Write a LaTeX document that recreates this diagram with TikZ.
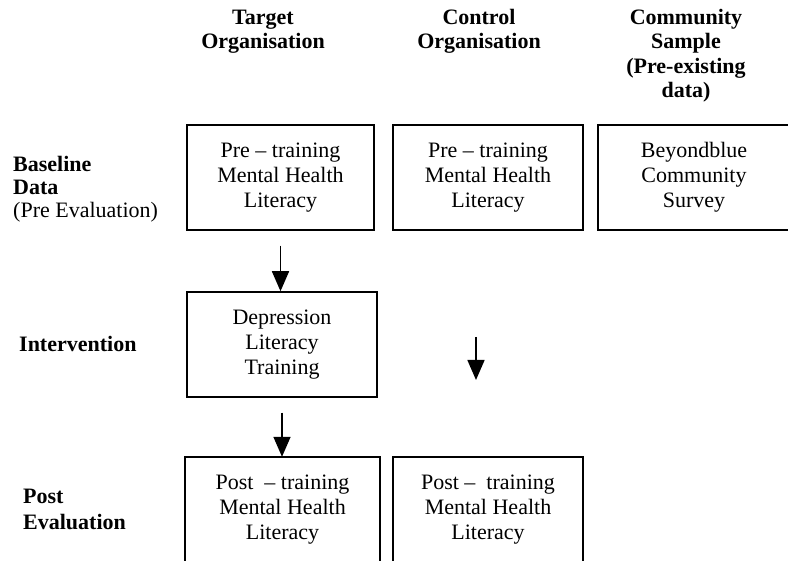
\documentclass[tikz,border=0pt]{standalone}
\usepackage{fontspec}
\setmainfont{Liberation Serif}
\usetikzlibrary{arrows.meta}
\newcommand\bxfont{\fontsize{22}{25}\selectfont}
\newcommand\hdfont{\fontsize{22}{24.5}\selectfont\bfseries}
\begin{document}
\begin{tikzpicture}[x=1pt,y=-1pt,
  box/.style={draw, line width=1.5pt, minimum height=105pt, inner sep=0pt, align=center, font=\bxfont},
  openbox/.style={minimum height=105pt, inner sep=0pt, align=center, font=\bxfont},
  edge/.style={line width=1.5pt},
  head/.style={align=center, font=\hdfont, inner sep=0pt},
  lab/.style={anchor=west, align=left, inner sep=0pt},
  arr/.style={line width=1.5pt, -{Triangle[width=17pt,length=20pt]}}]
\useasboundingbox (0,0) rectangle (788,561);

% column headers
\node[head] (hT) at (263,31.5) {Target\\Organisation};
\node[head] (hC) at (479,31.5) {Control\\Organisation};
\node[head] (hS) at (686,55.5) {Community\\Sample\\(Pre-existing\\data)};

% row labels
\node[lab, font=\fontsize{22}{23}\selectfont] (lB) at (13,189) {\textbf{Baseline}\\\textbf{Data}\\(Pre Evaluation)};
\node[lab, font=\hdfont] (lI) at (19,344) {Intervention};
\node[lab, font=\fontsize{22}{26}\selectfont\bfseries] (lP) at (23,509) {Post\\Evaluation};

% baseline row
\node[box, minimum width=187pt] (b1) at (280.5,177.5) {Pre -- training\\Mental Health\\Literacy};
\node[box, minimum width=190pt] (b2) at (488,177.5) {Pre -- training\\Mental Health\\Literacy};
\node[openbox, minimum width=192pt] (b3) at (694,177.5) {Beyondblue\\Community\\Survey};
\draw[edge] (b3.north east) -- (b3.north west) -- (b3.south west) -- (b3.south east);

% intervention
\node[box, minimum width=190pt] (iv) at (282,344.5) {Depression\\Literacy\\Training};

% post evaluation
\node[openbox, minimum width=195pt] (p1) at (282.5,509.5) {Post\ \ -- training\\Mental Health\\Literacy};
\draw[edge] (p1.south west) -- (p1.north west) -- (p1.north east) -- (p1.south east);
\node[openbox, minimum width=190pt] (p2) at (488,509.5) {Post --\ \ training\\Mental Health\\Literacy};
\draw[edge] (p2.south west) -- (p2.north west) -- (p2.north east) -- (p2.south east);

% arrows
\draw[arr] ([yshift=-15pt]b1.south) -- (b1.south |- iv.north);
\draw[arr] ([yshift=-15pt]iv.south) -- (iv.south |- p1.north);
\coordinate (c1) at (476,337);
\coordinate (c2) at (476,380);
\draw[arr] (c1) -- (c2);
\end{tikzpicture}
\end{document}
